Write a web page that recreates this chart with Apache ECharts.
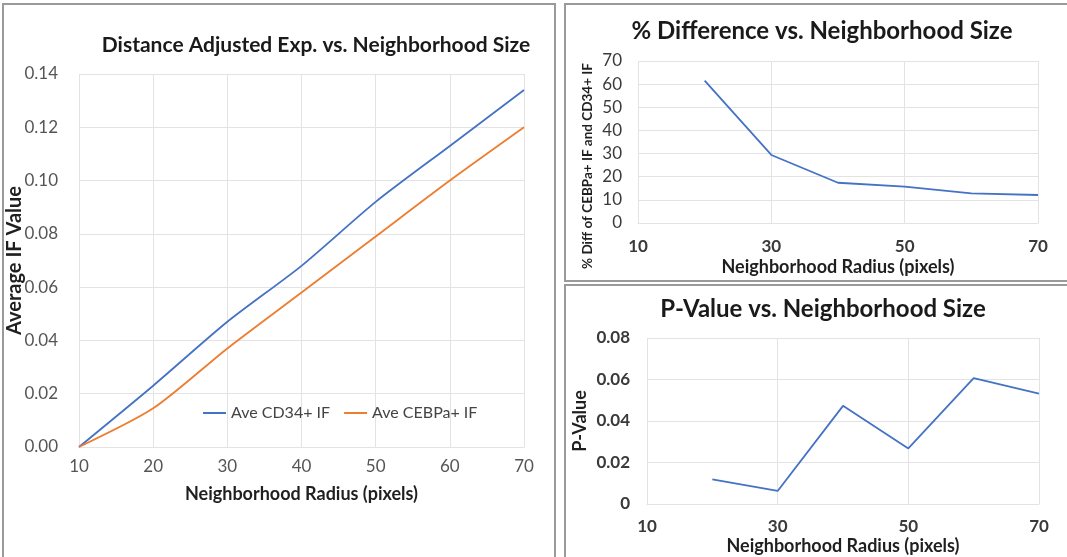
<!DOCTYPE html>
<html>
<head>
<meta charset="utf-8">
<script src="https://cdn.jsdelivr.net/npm/echarts@6/dist/echarts.min.js"></script>
<style>
  html, body { margin: 0; padding: 0; background: #fff; }
  #chart { width: 1067px; height: 557px; }
</style>
</head>
<body>
<div id="chart"></div>
<script>
// Neighborhood radius (pixels) shared by all three panels
const radii = ['10', '20', '30', '40', '50', '60', '70'];

// Distance adjusted expression
const aveCD34 = [0, 0.023, 0.047, 0.068, 0.092, 0.113, 0.134];
const aveCEBPa = [0, 0.0145, 0.037, 0.058, 0.079, 0.100, 0.120];

// % difference of CEBPa+ IF and CD34+ IF (no value at radius 10)
const pctDiff = [null, 61.5, 29.4, 17.4, 15.7, 12.8, 12.1];

// P-value per radius (no value at radius 10)
const pValue = [null, 0.0119, 0.0063, 0.0473, 0.0268, 0.0607, 0.0532];

const FONT = 'Lato, "Open Sans", sans-serif';
const BLUE = '#4472C4';
const ORANGE = '#ED7D31';
const GRID = '#E3E3E3';
const BORDER = '#9a9a9a';

const chart = echarts.init(document.getElementById('chart'));

function catAxis(gridIndex, labelInterval, opts) {
  return Object.assign({
    type: 'category',
    gridIndex: gridIndex,
    data: radii,
    boundaryGap: false,
    axisLine: { show: true, lineStyle: { color: GRID, width: 1 } },
    axisTick: { show: false },
    splitLine: { show: true, interval: labelInterval, lineStyle: { color: GRID } },
    nameLocation: 'middle'
  }, opts);
}

function valAxis(gridIndex, opts) {
  return Object.assign({
    type: 'value',
    gridIndex: gridIndex,
    axisLine: { show: false },
    axisTick: { show: false },
    splitLine: { show: true, lineStyle: { color: GRID } },
    nameLocation: 'middle',
    nameRotate: 90
  }, opts);
}

const axisNameStyle = (size) => ({ fontFamily: FONT, fontWeight: 'bold', fontSize: size, color: '#1f1f1f' });

chart.setOption({
  animation: false,
  backgroundColor: '#fff',
  textStyle: { fontFamily: FONT },
  graphic: [
    { type: 'rect', shape: { x: 3, y: 4, width: 552, height: 570 },
      style: { fill: 'none', stroke: BORDER, lineWidth: 2 } },
    { type: 'rect', shape: { x: 565, y: 4, width: 520, height: 277 },
      style: { fill: 'none', stroke: BORDER, lineWidth: 2 } },
    { type: 'rect', shape: { x: 565, y: 285, width: 520, height: 290 },
      style: { fill: 'none', stroke: BORDER, lineWidth: 2 } },
    // value-axis title of the % difference panel, sitting a little below the plot centre
    { type: 'text', x: 588, y: 166, rotation: Math.PI / 2,
      style: { text: '% Diff of CEBPa+ IF and CD34+ IF', fontFamily: FONT, fontWeight: 'bold',
        fontSize: 13.5, fill: '#1f1f1f', align: 'center', verticalAlign: 'middle' } }
  ],
  title: [
    { text: 'Distance Adjusted Exp. vs. Neighborhood Size', left: 311, top: 30, textAlign: 'center',
      textStyle: { fontFamily: FONT, fontWeight: 'bold', fontSize: 21, color: '#1a1a1a' } },
    { text: '% Difference vs. Neighborhood Size', left: 817, top: 14, textAlign: 'center',
      textStyle: { fontFamily: FONT, fontWeight: 'bold', fontSize: 24, color: '#1a1a1a' } },
    { text: 'P-Value vs. Neighborhood Size', left: 818, top: 292, textAlign: 'center',
      textStyle: { fontFamily: FONT, fontWeight: 'bold', fontSize: 24, color: '#1a1a1a' } }
  ],
  legend: {
    left: 198, top: 400,
    icon: 'rect',
    itemWidth: 23, itemHeight: 2, itemGap: 14,
    textStyle: { fontFamily: FONT, fontSize: 16, color: '#444' },
    data: ['Ave CD34+ IF', 'Ave CEBPa+ IF']
  },
  grid: [
    { left: 79, right: 543, top: 74, bottom: 110 },
    { left: 638, right: 29, top: 61, bottom: 334 },
    { left: 647, right: 28, top: 338, bottom: 53 }
  ],
  xAxis: [
    catAxis(0, 0, {
      name: 'Neighborhood Radius (pixels)', nameGap: 38,
      nameTextStyle: axisNameStyle(18),
      axisLabel: { interval: 0, fontFamily: FONT, fontSize: 17, color: '#555', margin: 11 }
    }),
    catAxis(1, 1, {
      name: 'Neighborhood Radius (pixels)', nameGap: 35,
      nameTextStyle: axisNameStyle(18),
      axisLabel: { interval: 1, fontFamily: FONT, fontSize: 17, fontWeight: 'bold', color: '#3a3a3a', margin: 15 }
    }),
    catAxis(2, 1, {
      name: 'Neighborhood Radius (pixels)', nameGap: 33,
      nameTextStyle: axisNameStyle(18),
      axisLabel: { interval: 1, fontFamily: FONT, fontSize: 17, fontWeight: 'bold', color: '#3a3a3a', margin: 14 }
    })
  ],
  yAxis: [
    valAxis(0, {
      min: 0, max: 0.14, interval: 0.02,
      name: 'Average IF Value', nameGap: 54, nameMoveOverlap: false,
      nameTextStyle: axisNameStyle(20),
      axisLabel: { fontFamily: FONT, fontSize: 17, color: '#555', margin: 21,
        formatter: v => v.toFixed(2) }
    }),
    valAxis(1, {
      min: 0, max: 70, interval: 10,
      axisLabel: { fontFamily: FONT, fontSize: 17, color: '#3a3a3a', margin: 16 }
    }),
    valAxis(2, {
      min: 0, max: 0.08, interval: 0.02,
      name: 'P-Value', nameGap: 58,
      nameTextStyle: axisNameStyle(18),
      axisLabel: { fontFamily: FONT, fontSize: 17, fontWeight: 'bold', color: '#3a3a3a', margin: 17,
        formatter: v => (v === 0 ? '0' : v.toFixed(2)) }
    })
  ],
  series: [
    { name: 'Ave CD34+ IF', type: 'line', xAxisIndex: 0, yAxisIndex: 0, data: aveCD34,
      smooth: 0.25, symbol: 'none', lineStyle: { color: BLUE, width: 1.8 }, itemStyle: { color: BLUE } },
    { name: 'Ave CEBPa+ IF', type: 'line', xAxisIndex: 0, yAxisIndex: 0, data: aveCEBPa,
      smooth: 0.25, symbol: 'none', lineStyle: { color: ORANGE, width: 1.8 }, itemStyle: { color: ORANGE } },
    { name: '% Diff', type: 'line', xAxisIndex: 1, yAxisIndex: 1, data: pctDiff,
      symbol: 'none', lineStyle: { color: BLUE, width: 1.8 }, itemStyle: { color: BLUE } },
    { name: 'P-Value', type: 'line', xAxisIndex: 2, yAxisIndex: 2, data: pValue,
      symbol: 'none', lineStyle: { color: BLUE, width: 1.8 }, itemStyle: { color: BLUE } }
  ]
});
</script>
</body>
</html>
